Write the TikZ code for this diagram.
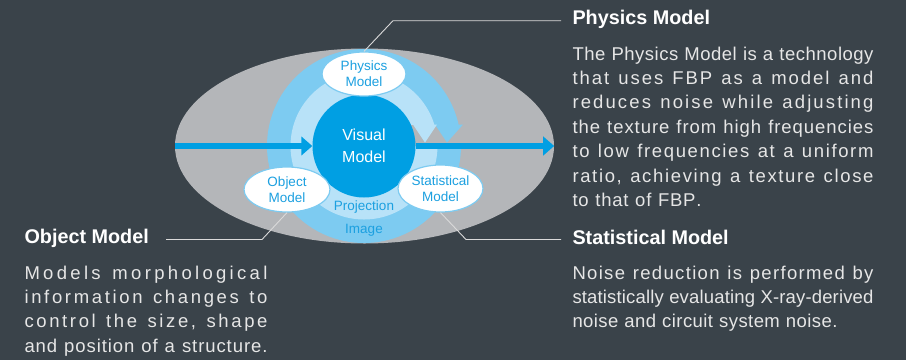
\documentclass[tikz,border=0pt]{standalone}
\usepackage{fontspec}
\setmainfont{Liberation Sans}
\usetikzlibrary{shapes.geometric,arrows.meta}
\definecolor{bgcol}{HTML}{3A434A}
\definecolor{fieldgray}{HTML}{B4B6B9}
\definecolor{outerring}{HTML}{7DCBF1}
\definecolor{innerring}{HTML}{B8E2F8}
\definecolor{visualblue}{HTML}{009FE3}
\definecolor{labelblue}{HTML}{1CA0E0}
\definecolor{leadcol}{HTML}{DADADA}
\definecolor{bodycol}{HTML}{E6E6E6}

\ExplSyntaxOn
\NewDocumentCommand \trackline { m m }
  {
    \hbox_to_wd:nn { #1 }
      {
        \str_map_inline:nn { #2 } { ##1 \hfil }
        \unskip
      }
  }
\ExplSyntaxOff
\newcommand\bodyfont{\fontsize{18.5}{24.45}\selectfont}

\begin{document}
\begin{tikzpicture}[x=1pt,y=-1pt,
  bar/.style={draw=visualblue, line width=6.6pt, -{Triangle[length=11pt,width=18.5pt]}},
  lab/.style={ellipse, fill=white, draw=outerring, line width=1.2pt, minimum width=84pt,
    minimum height=44pt, inner sep=0pt, align=center, text=labelblue,
    font=\fontsize{13.5}{16}\selectfont},
  ringtext/.style={font=\fontsize{13.5}{16}\selectfont, text=labelblue, anchor=base, inner sep=0pt},
  leader/.style={draw=leadcol, line width=0.9pt},
  head/.style={font=\fontsize{19.8}{24}\selectfont\bfseries, text=white, inner sep=0pt, anchor=base west},
  para/.style={font=\bodyfont, text=bodycol, inner sep=0pt, anchor=base west}]
\useasboundingbox (0,0) rectangle (906,360);
\fill[bgcol] (0,0) rectangle (906,360);
% gray field
\node[ellipse, fill=fieldgray, minimum width=379pt, minimum height=195pt, inner sep=0pt] (field) at (364.5,146) {};
% circular arrows
\fill[outerring] (364,146) circle[radius=97pt];
\fill[innerring] (364,146) circle[radius=73.5pt];
\fill[fieldgray] (404,124.5) rectangle (472,146);
\fill[outerring] (435,124.5) -- (463,124.5) -- (447,142.5) -- cycle;
\fill[innerring] (413,124.5) -- (437,124.5) -- (425,142.5) -- cycle;
% center
\node[circle, fill=visualblue, minimum size=103pt, inner sep=0pt, text=white,
  font=\fontsize{16}{22.5}\selectfont, align=center] (visual) at (364,146) {Visual\\Model};
\draw[bar] (field.west) -- (visual.west);
\draw[bar] (visual.east) -- (field.east);
% ring texts
\node[ringtext] (proj) at (364,210) {Projection};
\node[ringtext] (img) at (364,233) {Image};
% labels
\node[lab] (phys) at (364,74) {Physics\\Model};
\node[lab, minimum width=86pt, minimum height=45pt] (obj) at (287,189.5) {Object\\Model};
\node[lab, minimum width=85pt, minimum height=47pt] (stat) at (440.5,188.5) {Statistical\\Model};
% leaders
\coordinate (physbend) at (393,20.7);
\coordinate (physend) at (561,20.7);
\coordinate (objbend) at (262,239.5);
\coordinate (objend) at (166,239.5);
\coordinate (statbend) at (466,239.5);
\coordinate (statend) at (561,239.5);
\draw[leader] (phys.north) -- (physbend) -- (physend);
\draw[leader] (obj.south) -- (objbend) -- (objend);
\draw[leader] (stat.south) -- (statbend) -- (statend);
% headings
\node[head] (physhead) at (572.3,24) {Physics Model};
\node[head] (objhead) at (24.3,243) {Object Model};
\node[head] (stathead) at (572.3,244) {Statistical Model};
% paragraphs
\node[para] (physpara) at (572.3,60) {\vtop{%
  \trackline{301pt}{The Physics Model is a technology}
  \trackline{301pt}{that uses FBP as a model and}
  \trackline{301pt}{reduces noise while adjusting}
  \trackline{301pt}{the texture from high frequencies}
  \trackline{301pt}{to low frequencies at a uniform}
  \trackline{301pt}{ratio, achieving a texture close}
  \trackline{129pt}{to that of FBP.}}};
\node[para] (objpara) at (24.3,279) {\vtop{%
  \trackline{243pt}{Models morphological}
  \trackline{243pt}{information changes to}
  \trackline{243pt}{control the size, shape}
  \trackline{243pt}{and position of a structure.}}};
\node[para] (statpara) at (572.3,279) {\vtop{%
  \trackline{301pt}{Noise reduction is performed by}
  \trackline{301pt}{statistically evaluating X-ray-derived}
  \trackline{265pt}{noise and circuit system noise.}}};
\end{tikzpicture}
\end{document}
